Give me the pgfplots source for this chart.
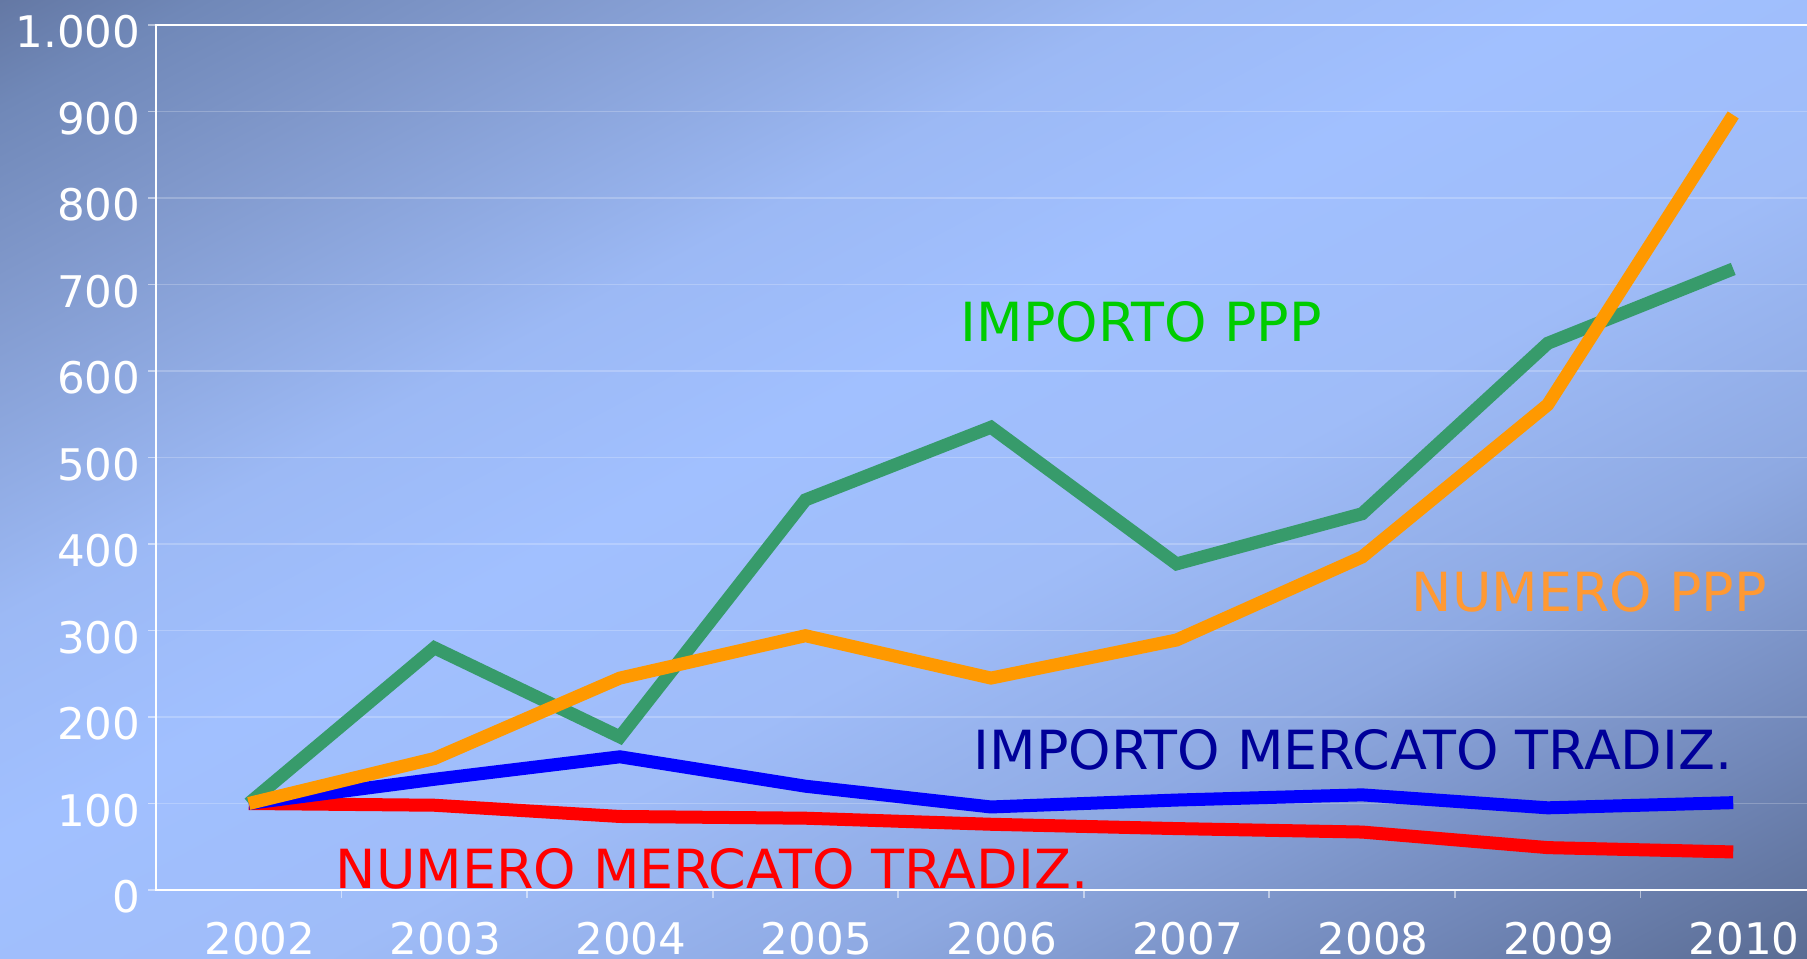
\documentclass[border=0pt]{standalone}
\usepackage{pgfplots}
\pgfplotsset{compat=1.18}
\usepackage{fontspec}
\setmainfont{DejaVu Sans}
\definecolor{s0}{HTML}{56688E}
\definecolor{s1}{HTML}{5A6C93}
\definecolor{s2}{HTML}{7187B8}
\definecolor{s3}{HTML}{8EA9E2}
\definecolor{s4}{HTML}{9FBCF8}
\definecolor{s5}{HTML}{A1C0FF}
\definecolor{s6}{HTML}{9CB9F5}
\definecolor{s7}{HTML}{8098CB}
\definecolor{s8}{HTML}{7088B8}
\definecolor{s9}{HTML}{6478A4}
\definecolor{s10}{HTML}{6276A2}
\definecolor{cgreen}{HTML}{379B6B}
\definecolor{corange}{HTML}{FF9900}
\definecolor{lgreen}{HTML}{00CC00}
\definecolor{lorange}{HTML}{FF9933}
\definecolor{lnavy}{HTML}{000099}
\pgfdeclareverticalshading{bgshade}{40cm}{color(0cm)=(s0); color(0.24cm)=(s1); color(2.2cm)=(s2); color(4.7cm)=(s3); color(7.2cm)=(s4); color(9.7cm)=(s5); color(11.7cm)=(s6); color(14.7cm)=(s7); color(16.21cm)=(s8); color(17.16cm)=(s9); color(17.4cm)=(s10)}
\pgfplotstableread{
x green orange blue red
0 100 100 100 100
1 280 152 128 98
2 177 245 154 85
3 451 294 120 83
4 535 245 96 76
5 377 289 104 71
6 435 385 110 67
7 632 561 95 49
8 718 896 101 44
}\datatab
\begin{document}
\begin{tikzpicture}
\useasboundingbox (0,0) rectangle (18.07,9.58);
\clip (0,0) rectangle (18.07,9.58);
\node[inner sep=0pt, rotate=27.9, anchor=center] at (9.035,4.79) {\pgfuseshading{bgshade}};
\begin{axis}[
  scale only axis, width=16.70cm, height=8.65cm,
  at={(1.56cm,0.68cm)}, anchor=south west,
  xmin=-0.5, xmax=8.5, ymin=0, ymax=1000,
  axis line style={white, line width=0.6pt},
  tick pos=left,
  tick align=outside, major tick length=0.08cm,
  tick style={white, opacity=0.5, line width=0.5pt},
  ytick={0,100,...,1000},
  yticklabels={0,100,200,300,400,500,600,700,800,900,1.000},
  xtick={0.5,1.5,...,7.5}, xticklabels={},
  extra x ticks={0,1,...,8},
  extra x tick labels={2002,2003,2004,2005,2006,2007,2008,2009,2010},
  extra x tick style={major tick length=0pt, xticklabel style={anchor=north, inner sep=0pt, yshift=-0.31cm, xshift=0.11cm}},
  ymajorgrids, major grid style={white, opacity=0.22, line width=0.5pt},
  /pgf/number format/assume math mode=true,
  ticklabel style={white, font=\fontsize{12.4}{12.4}\selectfont},
  yticklabel style={anchor=east, inner sep=0pt, xshift=-0.07cm, yshift=-0.07cm},
  every axis plot/.style={line width=0.13cm, line join=miter},
]
\addplot[red, no marks] table[x=x, y=red] {\datatab};
\addplot[blue, no marks] table[x=x, y=blue] {\datatab};
\addplot[cgreen, no marks] table[x=x, y=green] {\datatab};
\addplot[corange, no marks] table[x=x, y=orange] {\datatab};
\end{axis}
\begin{scope}[every node/.style={inner sep=0pt, anchor=base west, font=\fontsize{15.35}{15.35}\selectfont}]
\node[text=lgreen] at (9.60,6.16) {IMPORTO PPP};
\node[text=lorange] at (14.11,3.46) {NUMERO PPP};
\node[text=lnavy] at (9.73,1.89) {IMPORTO MERCATO TRADIZ.};
\node[text=red] at (3.35,0.70) {NUMERO MERCATO TRADIZ.};
\end{scope}
\end{tikzpicture}
\end{document}
